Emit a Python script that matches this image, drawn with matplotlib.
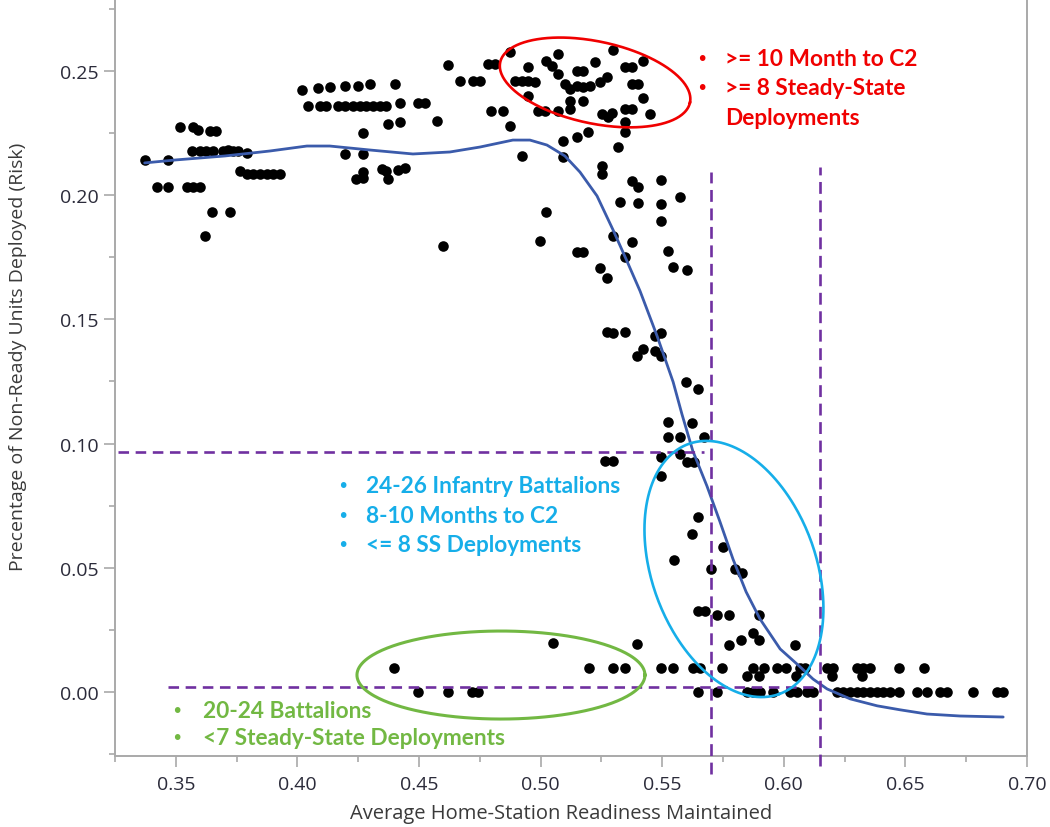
import numpy as np
import matplotlib
matplotlib.use("Agg")
import matplotlib.pyplot as plt
from matplotlib.ticker import MultipleLocator, FormatStrFormatter

# ---------------- data ----------------
# plateau cluster (high risk, low readiness)
plateau_x = [0.3373, 0.3468, 0.3421, 0.3468, 0.3544, 0.3571, 0.3599, 0.3516, 0.3571, 0.3591,
             0.3640, 0.3667, 0.3565, 0.3599, 0.3626, 0.3653, 0.3695, 0.3715, 0.3736, 0.3756,
             0.3791, 0.3647, 0.3722, 0.3619, 0.3763, 0.3791, 0.3818, 0.3846, 0.3873, 0.3900,
             0.3928, 0.4044, 0.4092, 0.4119, 0.4167, 0.4195, 0.4229, 0.4256, 0.4284, 0.4311,
             0.4339, 0.4366, 0.4421, 0.4496, 0.4524, 0.4373, 0.4421, 0.4271, 0.4195, 0.4271,
             0.4243, 0.4271, 0.4271, 0.4346, 0.4366, 0.4373, 0.4415, 0.4442, 0.4573, 0.4600,
             0.4018, 0.4084, 0.4133, 0.4195, 0.4250, 0.4298, 0.4401]
plateau_y = [0.2142, 0.2142, 0.2034, 0.2034, 0.2034, 0.2034, 0.2034, 0.2276, 0.2276, 0.2262,
             0.2260, 0.2260, 0.2177, 0.2177, 0.2177, 0.2177, 0.2177, 0.2180, 0.2177, 0.2177,
             0.2170, 0.1931, 0.1931, 0.1835, 0.2096, 0.2087, 0.2087, 0.2087, 0.2087, 0.2087,
             0.2087, 0.2359, 0.2359, 0.2359, 0.2359, 0.2359, 0.2359, 0.2359, 0.2359, 0.2359,
             0.2359, 0.2359, 0.2371, 0.2371, 0.2371, 0.2287, 0.2296, 0.2249, 0.2166, 0.2166,
             0.2065, 0.2092, 0.2070, 0.2105, 0.2099, 0.2065, 0.2102, 0.2108, 0.2297, 0.1797,
             0.2423, 0.2431, 0.2436, 0.2441, 0.2441, 0.2447, 0.2449]

# peak cluster (red ellipse region and its surroundings)
peak_x = [0.4620, 0.4668, 0.4723, 0.4750, 0.4785, 0.4812, 0.4798, 0.4846, 0.4874, 0.4922,
          0.4874, 0.4949, 0.4894, 0.4922, 0.4949, 0.4976, 0.4949, 0.4990, 0.5018, 0.5024,
          0.5045, 0.5072, 0.5072, 0.5100, 0.5120, 0.5148, 0.5175, 0.5203, 0.5148, 0.5175,
          0.5224, 0.5120, 0.5175, 0.5072, 0.5120, 0.5093, 0.5148, 0.5196, 0.5093, 0.5244,
          0.5272, 0.5299, 0.5347, 0.5374, 0.5374, 0.5402, 0.5422, 0.5422, 0.5347, 0.5374,
          0.5450, 0.5251, 0.5292, 0.5278, 0.5347, 0.5347, 0.5319]
peak_y = [0.2524, 0.2461, 0.2461, 0.2461, 0.2528, 0.2528, 0.2340, 0.2340, 0.2280, 0.2159,
          0.2575, 0.2515, 0.2461, 0.2461, 0.2461, 0.2457, 0.2401, 0.2340, 0.2340, 0.2542,
          0.2522, 0.2568, 0.2488, 0.2448, 0.2428, 0.2441, 0.2434, 0.2441, 0.2501, 0.2501,
          0.2535, 0.2381, 0.2381, 0.2340, 0.2347, 0.2219, 0.2233, 0.2256, 0.2153, 0.2454,
          0.2474, 0.2585, 0.2515, 0.2515, 0.2448, 0.2448, 0.2542, 0.2390, 0.2347, 0.2347,
          0.2327, 0.2327, 0.2333, 0.2313, 0.2293, 0.2253, 0.2193]

# transition cluster (falling risk)
drop_x = [0.5251, 0.5251, 0.5374, 0.5402, 0.5497, 0.5574, 0.5326, 0.5402, 0.5497, 0.5497,
          0.5024, 0.4997, 0.5148, 0.5175, 0.5244, 0.5272, 0.5299, 0.5374, 0.5347, 0.5525,
          0.5546, 0.5600, 0.5272, 0.5299, 0.5347, 0.5422, 0.5395, 0.5470, 0.5497, 0.5470,
          0.5497, 0.5598, 0.5649, 0.5525, 0.5621, 0.5525, 0.5574, 0.5670, 0.5497, 0.5574,
          0.5602, 0.5629, 0.5264, 0.5299, 0.5497, 0.5649, 0.5624, 0.5752, 0.5548, 0.5700,
          0.5800, 0.5827, 0.5649, 0.5676, 0.5724, 0.5775, 0.5899, 0.5398, 0.5776, 0.5824,
          0.5874, 0.5899, 0.6048, 0.5049]
drop_y = [0.2119, 0.2085, 0.2058, 0.2032, 0.2062, 0.1991, 0.1971, 0.1969, 0.1965, 0.1897,
          0.1934, 0.1817, 0.1770, 0.1770, 0.1706, 0.1665, 0.1837, 0.1813, 0.1750, 0.1777,
          0.1710, 0.1700, 0.1450, 0.1445, 0.1448, 0.1381, 0.1351, 0.1434, 0.1444, 0.1374,
          0.1354, 0.1247, 0.1220, 0.1086, 0.1083, 0.1025, 0.1025, 0.1025, 0.0945, 0.0958,
          0.0925, 0.0927, 0.0931, 0.0931, 0.0871, 0.0703, 0.0636, 0.0583, 0.0533, 0.0495,
          0.0495, 0.0479, 0.0327, 0.0327, 0.0310, 0.0310, 0.0310, 0.0193, 0.0190, 0.0211,
          0.0238, 0.0211, 0.0190, 0.0196]

# low-risk tail
tail_x = [0.4398, 0.5200, 0.5299, 0.5347, 0.5497, 0.5546, 0.5625, 0.5655, 0.5747, 0.5872,
          0.5919, 0.5973, 0.6009, 0.6067, 0.6087, 0.6176, 0.6204, 0.6300, 0.6327, 0.6355,
          0.6475, 0.6577,
          0.5847, 0.5899, 0.6050, 0.6197, 0.6320,
          0.4497, 0.4620, 0.4716, 0.4743, 0.5649, 0.5724, 0.5847, 0.5874, 0.5902, 0.5957,
          0.6025, 0.6053, 0.6094, 0.6121, 0.6217, 0.6245, 0.6272, 0.6300, 0.6327, 0.6355,
          0.6382, 0.6409, 0.6437, 0.6475, 0.6547, 0.6588, 0.6643, 0.6670, 0.6777, 0.6876,
          0.6903]
tail_y = [0.0095] * 22 + [0.0066] * 5 + [0.0] * 31

# smoothed fit curve
fit_x = [0.3372, 0.3500, 0.3702, 0.3887, 0.4039, 0.4133, 0.4298, 0.4475, 0.4627, 0.4751,
         0.4886, 0.4956, 0.5026, 0.5100, 0.5162, 0.5232, 0.5298, 0.5355, 0.5409, 0.5479,
         0.5545, 0.5581, 0.5626, 0.5684, 0.5738, 0.5791, 0.5845, 0.5902, 0.5985, 0.6067,
         0.6120, 0.6178, 0.6273, 0.6384, 0.6478, 0.6589, 0.6725, 0.6902]
fit_y = [0.2130, 0.2142, 0.2158, 0.2178, 0.2198, 0.2198, 0.2182, 0.2166, 0.2174, 0.2194,
         0.2222, 0.2222, 0.2202, 0.2158, 0.2093, 0.1997, 0.1860, 0.1735, 0.1614, 0.1433,
         0.1248, 0.1119, 0.0970, 0.0829, 0.0684, 0.0535, 0.0403, 0.0294, 0.0173, 0.0101,
         0.0052, 0.0012, -0.0028, -0.0056, -0.0072, -0.0089, -0.0097, -0.0101]

# threshold guide lines
vline_x = [0.570, 0.615]
vline_top = [0.2093, 0.2114]
vline_bottom = [-0.033, -0.030]
hline_y = [0.0966, 0.002]
hline_x0 = [0.3262, 0.3467]
hline_x1 = [0.5670, 0.6150]

x_ticks = [0.35, 0.40, 0.45, 0.50, 0.55, 0.60, 0.65, 0.70]
y_ticks = [0.00, 0.05, 0.10, 0.15, 0.20, 0.25]

red_lines = [">= 10 Month to C2", ">= 8 Steady-State", "Deployments"]
cyan_lines = ["24-26 Infantry Battalions", "8-10 Months to C2", "<= 8 SS Deployments"]
green_lines = ["20-24 Battalions", "<7 Steady-State Deployments"]

# ---------------- figure ----------------
W, H = 1050, 828
fig = plt.figure(figsize=(W / 100, H / 100), dpi=100)
ax = fig.add_axes([115 / W, 1 - 757 / H, 912 / W, 757 / H])
ax.set_xlim(0.325, 0.700)
ax.set_ylim(-0.0258, 0.279)

RED = "#f00000"
CYAN = "#16aee9"
GREEN = "#72b843"
PURPLE = "#7030a0"
BLUE = "#3b5bab"

all_x = plateau_x + peak_x + drop_x + tail_x
all_y = plateau_y + peak_y + drop_y + tail_y
ax.scatter(all_x, all_y, s=58, c="black", linewidths=0, zorder=3)

ax.plot(fit_x, fit_y, color=BLUE, lw=2.0, zorder=4, solid_capstyle="round",
        solid_joinstyle="round")

for x, t, b in zip(vline_x, vline_top, vline_bottom):
    ax.plot([x, x], [b, t], color=PURPLE, lw=1.9, dashes=(4.5, 2.5), zorder=5, clip_on=False)
for y, a, b in zip(hline_y, hline_x0, hline_x1):
    ax.plot([a, b], [y, y], color=PURPLE, lw=1.9, dashes=(4, 2.5), zorder=5)

# ellipses drawn in pixel space so their shape ignores the axis aspect
fig.canvas.draw()


def ellipse(cx, cy, a_px, b_px, ang_deg, color, lw):
    t = np.linspace(0, 2 * np.pi, 300)
    c = ax.transData.transform((cx, cy))
    th = np.deg2rad(ang_deg)
    ex = a_px * np.cos(t)
    ey = b_px * np.sin(t)
    px = c[0] + ex * np.cos(th) - ey * np.sin(th)
    py = c[1] + ex * np.sin(th) + ey * np.cos(th)
    d = ax.transData.inverted().transform(np.column_stack([px, py]))
    ax.plot(d[:, 0], d[:, 1], color=color, lw=lw, zorder=6)


ellipse(0.5224, 0.2454, 97, 41, -12, RED, 1.9)
ellipse(0.5795, 0.0495, 133, 82, -70, CYAN, 1.9)
ellipse(0.4837, 0.0068, 144, 44, 0, GREEN, 2.2)

tfont = dict(family="Lato", weight="bold", fontsize=16.3)


def block(lines, bx, tx, ys, color, bullets):
    for i, (txt, y) in enumerate(zip(lines, ys)):
        if bullets[i]:
            ax.text(bx, y, "\u2022", color=color, ha="center", va="center",
                    fontsize=14, family="DejaVu Sans", zorder=7)
        ax.text(tx, y, txt, color=color, ha="left", va="center", zorder=7, **tfont)


block(red_lines, 0.5664, 0.5758, [0.2551, 0.2434, 0.2313], RED, [True, True, False])
block(cyan_lines, 0.4186, 0.4284, [0.0833, 0.0710, 0.0592], CYAN, [True, True, True])
block(green_lines, 0.3503, 0.3612, [-0.0075, -0.0182], GREEN, [True, True])

# axes styling
for s in ["left", "bottom", "right"]:
    ax.spines[s].set_color("#a9a9a9")
    ax.spines[s].set_linewidth(1.4)
ax.spines["top"].set_visible(False)

ax.set_xticks(x_ticks)
ax.set_yticks(y_ticks)
ax.xaxis.set_minor_locator(MultipleLocator(0.025))
ax.yaxis.set_minor_locator(MultipleLocator(0.025))
ax.xaxis.set_major_formatter(FormatStrFormatter("%.2f"))
ax.yaxis.set_major_formatter(FormatStrFormatter("%.2f"))
ax.tick_params(which="major", length=8, width=1.2, color="#a9a9a9",
               labelsize=14, labelcolor="#2b2b3a")
ax.tick_params(which="minor", length=4, width=1.2, color="#a9a9a9")
ax.tick_params(axis="x", which="major", pad=6)
ax.tick_params(axis="y", which="major", pad=4)
for lab in ax.get_xticklabels() + ax.get_yticklabels():
    lab.set_family("Open Sans")

ax.set_xlabel("Average Home-Station Readiness Maintained", family="Open Sans",
              fontsize=14.5, color="#3a3a3a")
ax.set_ylabel("Precentage of Non-Ready Units Deployed (Risk)", family="Open Sans",
              fontsize=14, color="#3a3a3a")
ax.xaxis.label.set_va("center")
ax.yaxis.label.set_va("center")
ax.xaxis.set_label_coords(0.489, -0.0753)
ax.yaxis.set_label_coords(-0.106, 0.528)

fig.savefig("out.png", dpi=100)
